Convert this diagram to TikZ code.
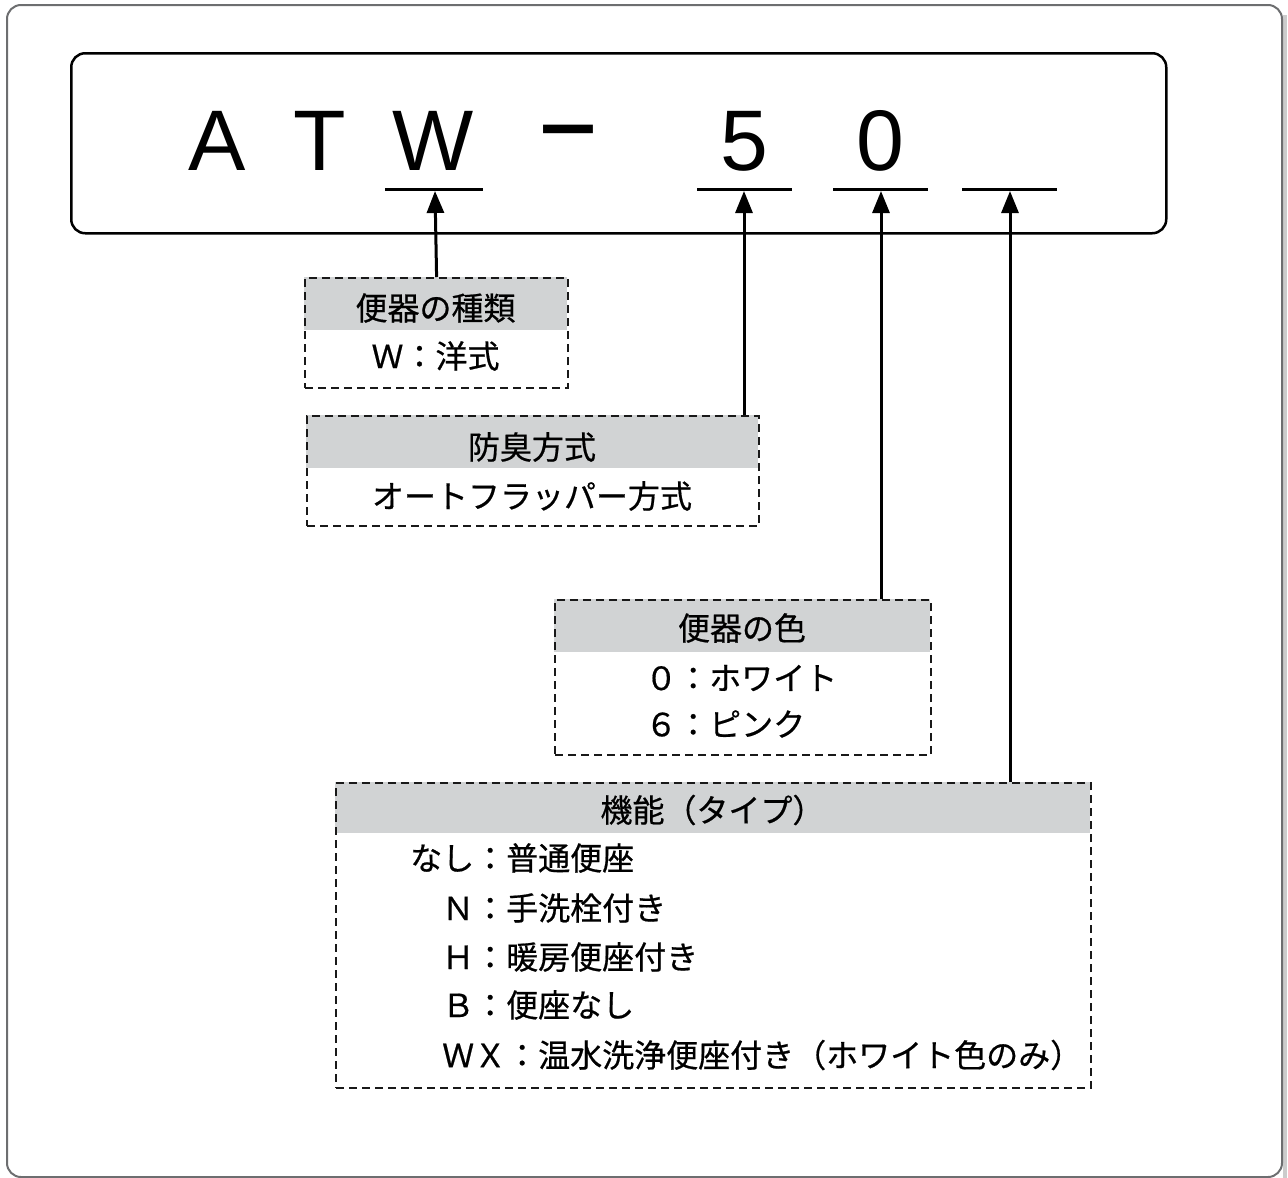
\documentclass[tikz,border=0pt]{standalone}
\usepackage{fontspec}
\setmainfont{Noto Sans CJK JP}[FakeBold=0.6]
\newfontfamily\bigfont{Liberation Sans}
\newfontfamily\bigboldfont{Liberation Sans Bold}
\usetikzlibrary{arrows.meta}
\definecolor{hdrgray}{HTML}{D1D3D4}
\definecolor{framegray}{HTML}{6D6E70}
\tikzset{
  bigchar/.style={anchor=base,inner sep=0pt,font=\bigfont\fontsize{86}{86}\selectfont},
  uline/.style={line width=3pt},
  arr/.style={line width=3pt,-{Triangle[length=22pt,width=17pt]}},
  hdr/.style={fill=hdrgray,anchor=north west,inner sep=0pt},
  dashbox/.style={draw=black!90,line width=2.2pt,dash pattern=on 8pt off 5pt,anchor=north west,inner sep=0pt},
  jp/.style={inner sep=0pt,font=\fontsize{32}{32}\selectfont},
  jpl/.style={jp,anchor=west},
}
\begin{document}
\begin{tikzpicture}[x=1pt,y=-1pt]
\useasboundingbox (0,0) rectangle (1288,1178);
% outer frame
\fill[black!20] (1283,15) rectangle (1287,1178);
\draw[framegray,line width=2pt,rounded corners=14pt] (7,5) rectangle (1282,1177);
% model code
\node[draw,line width=2.5pt,rounded corners=14pt,minimum width=1095pt,minimum height=180pt,anchor=north west] (code) at (70,52) {};
\node[bigchar] (chA) at (217,170) {A};
\node[bigchar] (chT) at (319.5,170) {T};
\node[bigchar] (chW) at (433.5,170) {W};
\node[inner sep=0pt,xscale=1.17,transform shape,font=\bigboldfont\fontsize{86}{86}\selectfont] (chdash) at (568,139) {–};
\node[bigchar] (ch5) at (744.5,170) {5};
\node[bigchar] (ch0) at (880.5,170) {0};
\draw[uline] (385,189)--(483,189);
\draw[uline] (697,189)--(792,189);
\draw[uline] (833,189)--(928,189);
\draw[uline] (962,189)--(1057,189);
\coordinate (tipW) at (435,191);
\coordinate (tip5) at (744,191);
\coordinate (tip0) at (881,191);
\coordinate (tipX) at (1010,191);
% kind
\node[hdr,minimum width=263pt,minimum height=53pt] (kindhdr) at (304,277) {};
\node[dashbox,minimum width=263pt,minimum height=110pt] (kind) at (304,277) {};
\node[jp] (kindttl) at (435.5,308) {便器の種類};
\node[jp] (kindw) at (435.5,356) {Ｗ：洋式};
% odor
\node[hdr,minimum width=452pt,minimum height=53pt] (odorhdr) at (306,415) {};
\node[dashbox,minimum width=452pt,minimum height=110pt] (odor) at (306,415) {};
\node[jp] (odorttl) at (532,447) {防臭方式};
\node[jp] (odorflap) at (532,496) {オートフラッパー方式};
% color
\node[hdr,minimum width=376pt,minimum height=53pt] (colorhdr) at (554,599) {};
\node[dashbox,minimum width=376pt,minimum height=155pt] (color) at (554,599) {};
\node[jp] (colorttl) at (742,628) {便器の色};
\node[jpl] (colorwht) at (645,678) {０：ホワイト};
\node[jpl] (colorpnk) at (645,724) {６：ピンク};
% function
\node[hdr,minimum width=755pt,minimum height=51pt] (funchdr) at (335,782) {};
\node[dashbox,minimum width=755pt,minimum height=305pt] (func) at (335,782) {};
\node[jp] (functtl) at (712.5,810) {機能（タイプ）};
\node[jpl] (funcnone) at (410,858) {なし：普通便座};
\node[jpl] (funcn) at (442,908) {Ｎ：手洗栓付き};
\node[jpl] (funch) at (442,957) {Ｈ：暖房便座付き};
\node[jpl] (funcb) at (442,1005) {Ｂ：便座なし};
\node[jpl] (funcwx) at (442,1055) {ＷＸ：温水洗浄便座付き（ホワイト色のみ）};
% arrows
\draw[arr] (kind.north)--(tipW);
\draw[arr] (odor.north-|tip5)--(tip5);
\draw[arr] (color.north-|tip0)--(tip0);
\draw[arr] (func.north-|tipX)--(tipX);
\end{tikzpicture}
\end{document}
